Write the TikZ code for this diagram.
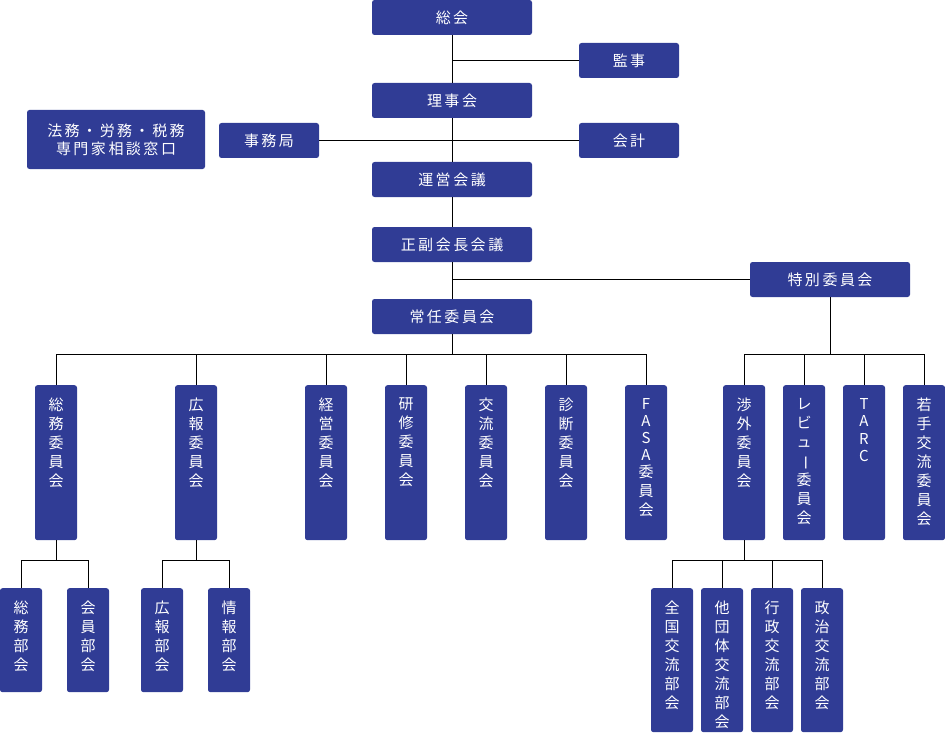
\documentclass[tikz,border=0pt]{standalone}
\usepackage{fontspec}
\setmainfont{Noto Sans CJK JP}
\definecolor{kon}{HTML}{303C95}
\newcommand{\kk}{\hspace{2.5pt}}
\newcommand{\tate}[2]{\parbox[c][#1][t]{42pt}{\centering\vspace*{13pt}#2}}
\newcommand{\nobashi}{\rotatebox[origin=c]{-90}{ー}}
\tikzset{
hako/.style={fill=kon,text=white,rounded corners=2.5pt,inner sep=0pt,font=\fontsize{15}{18}\selectfont},
yoko/.style={hako,minimum width=160pt,minimum height=35pt},
kobako/.style={hako,minimum width=100pt,minimum height=35pt},
tatebako/.style={hako,anchor=north,font=\fontsize{15}{19}\selectfont},
sen/.style={line width=1pt}
}

\begin{document}
\begin{tikzpicture}[x=1pt,y=-1pt]
\useasboundingbox (0,0) rectangle (945,733);
\node[yoko] (sokai) at (452,17.5) {総\kk 会};
\node[kobako] (kanji) at (629,60.5) {監\kk 事};
\node[yoko] (riji) at (452,100.5) {理\kk 事\kk 会};
\node[hako,minimum width=178pt,minimum height=59pt,align=center] (senmon) at (116,139.5) {法\kk 務\kk ・\kk 労\kk 務\kk ・\kk 税\kk 務\\専\kk 門\kk 家\kk 相\kk 談\kk 窓\kk 口};
\node[kobako] (jimu) at (269,140.5) {事\kk 務\kk 局};
\node[kobako] (kaikei) at (629,140.5) {会\kk 計};
\node[yoko] (unei) at (452,179.5) {運\kk 営\kk 会\kk 議};
\node[yoko] (seifuku) at (452,244.5) {正\kk 副\kk 会\kk 長\kk 会\kk 議};
\node[yoko] (tokubetsu) at (830,279.5) {特\kk 別\kk 委\kk 員\kk 会};
\node[yoko] (jonin) at (452,316.5) {常\kk 任\kk 委\kk 員\kk 会};

\node[tatebako] (somu) at (56,385) {\tate{155pt}{総\\務\\委\\員\\会}};
\node[tatebako] (koho) at (196,385) {\tate{155pt}{広\\報\\委\\員\\会}};
\node[tatebako] (keiei) at (326,385) {\tate{155pt}{経\\営\\委\\員\\会}};
\node[tatebako] (kenshu) at (406,385) {\tate{155pt}{研\\修\\委\\員\\会}};
\node[tatebako] (koryu) at (486,385) {\tate{155pt}{交\\流\\委\\員\\会}};
\node[tatebako] (shindan) at (566,385) {\tate{155pt}{診\\断\\委\\員\\会}};
\node[tatebako] (fasa) at (646,385) {\tate{155pt}{F\\[-2pt]A\\[-2pt]S\\[-2pt]A\\[-2pt]委\\員\\会}};
\node[tatebako] (shogai) at (744,385) {\tate{155pt}{渉\\外\\委\\員\\会}};
\node[tatebako] (review) at (804,385) {\tate{155pt}{レ\\ビ\\ュ\\\nobashi\\委\\員\\会}};
\node[tatebako] (tarc) at (864,385) {\tate{155pt}{T\\[-1.5pt]A\\[-1.5pt]R\\[-1.5pt]C}};
\node[tatebako] (wakate) at (924,385) {\tate{155pt}{若\\手\\交\\流\\委\\員\\会}};

\node[tatebako] (somubu) at (21,588) {\tate{104pt}{総\\務\\部\\会}};
\node[tatebako] (kaiinbu) at (88,588) {\tate{104pt}{会\\員\\部\\会}};
\node[tatebako] (kohobu) at (162,588) {\tate{104pt}{広\\報\\部\\会}};
\node[tatebako] (johobu) at (229,588) {\tate{104pt}{情\\報\\部\\会}};
\node[tatebako] (zenkoku) at (672,588) {\tate{144pt}{全\\国\\交\\流\\部\\会}};
\node[tatebako] (tadantai) at (722,588) {\tate{144pt}{他\\団\\体\\交\\流\\部\\会}};
\node[tatebako] (gyosei) at (772,588) {\tate{144pt}{行\\政\\交\\流\\部\\会}};
\node[tatebako] (seiji) at (822,588) {\tate{144pt}{政\\治\\交\\流\\部\\会}};

\coordinate (bus1) at (0,354);
\coordinate (bus2) at (0,560);
\draw[sen] (sokai) -- (riji);
\draw[sen] (kanji.west) -- (kanji.west -| sokai.south);
\draw[sen] (riji) -- (unei);
\draw[sen] (jimu) -- (kaikei);
\draw[sen] (unei) -- (seifuku);
\draw[sen] (seifuku) -- (jonin);
\draw[sen] (tokubetsu.west) -- (tokubetsu.west -| jonin.north);
\draw[sen] (jonin) -- (jonin.south |- bus1);
\draw[sen] (somu.north) |- (fasa.north |- bus1) -- (fasa.north);
\foreach \n in {koho,keiei,kenshu,koryu,shindan}
  \draw[sen] (\n.north) -- (\n.north |- bus1);
\draw[sen] (tokubetsu) -- (tokubetsu.south |- bus1);
\draw[sen] (shogai.north) |- (wakate.north |- bus1) -- (wakate.north);
\foreach \n in {review,tarc}
  \draw[sen] (\n.north) -- (\n.north |- bus1);
\draw[sen] (somu) -- (somu.south |- bus2);
\draw[sen] (somubu.north) |- (kaiinbu.north |- bus2) -- (kaiinbu.north);
\draw[sen] (koho) -- (koho.south |- bus2);
\draw[sen] (kohobu.north) |- (johobu.north |- bus2) -- (johobu.north);
\draw[sen] (shogai) -- (shogai.south |- bus2);
\draw[sen] (zenkoku.north) |- (seiji.north |- bus2) -- (seiji.north);
\foreach \n in {tadantai,gyosei}
  \draw[sen] (\n.north) -- (\n.north |- bus2);
\end{tikzpicture}
\end{document}
